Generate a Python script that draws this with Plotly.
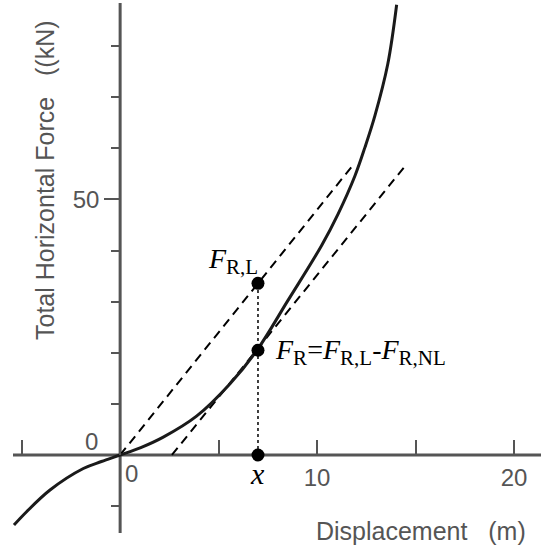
import plotly.graph_objects as go

# ---- data ----
curve_x = [-5.39, -4.75, -3.56, -1.87, -0.95, 0.0, 1.05, 2.19, 3.88, 5.57, 6.93, 8.53, 10.23, 11.07, 11.92, 12.43, 12.93, 13.59, 14.04]
curve_y = [-13.7, -11.1, -6.85, -2.65, -1.28, 0.0, 1.45, 3.5, 7.6, 13.9, 20.4, 30.3, 41.0, 47.2, 54.6, 60.2, 66.3, 76.5, 88.1]

linear_x = [0.0, 11.92]          # secant through origin (F_R,L line)
linear_y = [0.0, 57.2]
tangent_x = [2.63, 14.5]         # parallel tangent line
tangent_y = [0.0, 56.7]

x_mark = 7.0
f_rl = 33.6
f_r = 20.5

x_ticks = [10, 20]
x_tick_text = ["10", "20"]
x_minor = [-5, 0, 5, 15]
y_ticks = [50]
y_tick_text = ["50"]
y_minor = [-10, 10, 20, 30, 40, 60, 70, 80]

x_axis_label = "Displacement\u00a0\u00a0\u00a0(m)"
y_axis_label = "Total Horizontal Force\u00a0\u00a0\u00a0((kN)"

# ---- layout constants ----
W, H = 541, 551
XMIN, XMAX = -6.10, 21.37
YMIN, YMAX = -18.79, 89.04
AX_COLOR = "#555555"
SANS = "Liberation Sans, Arial, sans-serif"
SERIF = "Liberation Serif, Times New Roman, serif"

def px(v):
    return (v - XMIN) / (XMAX - XMIN)

def py(v):
    return (v - YMIN) / (YMAX - YMIN)

fig = go.Figure()

fig.add_trace(go.Scatter(x=linear_x, y=linear_y, mode="lines",
                         line=dict(color="black", width=2, dash="9px,6px"), hoverinfo="skip"))
fig.add_trace(go.Scatter(x=tangent_x, y=tangent_y, mode="lines",
                         line=dict(color="black", width=2, dash="9px,6px"), hoverinfo="skip"))
fig.add_trace(go.Scatter(x=curve_x, y=curve_y, mode="lines",
                         line=dict(color="#1a1a1a", width=3, shape="spline", smoothing=1), hoverinfo="skip"))
fig.add_trace(go.Scatter(x=[x_mark, x_mark], y=[0, f_rl], mode="lines",
                         line=dict(color="black", width=1.5, dash="dot"), hoverinfo="skip"))
fig.add_trace(go.Scatter(x=[x_mark, x_mark, x_mark], y=[f_rl, f_r, 0], mode="markers",
                         marker=dict(color="black", size=13), hoverinfo="skip"))

# axis lines crossing at the origin
fig.add_shape(type="line", xref="x", yref="y", x0=-5.44, x1=XMAX, y0=0, y1=0,
              line=dict(color=AX_COLOR, width=3), layer="below")
fig.add_shape(type="line", xref="x", yref="y", x0=0, x1=0, y0=-15.26, y1=88.45,
              line=dict(color=AX_COLOR, width=3), layer="below")

SUB = "<sub><span style='font-size:21px'>{}</span></sub>"

annotations = [
    dict(x=-1.0, y=0, xref="x", yref="y", text="0", showarrow=False,
         font=dict(family=SANS, size=24, color=AX_COLOR), xanchor="right", yanchor="bottom", yshift=-2),
    dict(x=0.15, y=0, xref="x", yref="y", text="0", showarrow=False,
         font=dict(family=SANS, size=24, color=AX_COLOR), xanchor="left", yanchor="top", yshift=-3),
    dict(x=421 / W, y=1 - 531 / H, xref="paper", yref="paper", text=x_axis_label, showarrow=False,
         font=dict(family=SANS, size=25, color=AX_COLOR), xanchor="center", yanchor="middle"),
    dict(x=45 / W, y=1 - 180 / H, xref="paper", yref="paper", text=y_axis_label, showarrow=False,
         textangle=-90, font=dict(family=SANS, size=25, color=AX_COLOR), xanchor="center", yanchor="middle"),
    dict(x=x_mark, y=f_rl, xref="x", yref="y",
         text="<i>F</i>" + SUB.format("R,L"), showarrow=False,
         font=dict(family=SERIF, size=28, color="black"), xanchor="right", yanchor="bottom", xshift=2, yshift=2),
    dict(x=x_mark, y=f_r, xref="x", yref="y",
         text="<i>F</i>" + SUB.format("R") + "=<i>F</i>" + SUB.format("R,L") + "-<i>F</i>" + SUB.format("R,NL"),
         showarrow=False, font=dict(family=SERIF, size=28, color="black"),
         xanchor="left", yanchor="middle", xshift=15, yshift=-2),
    dict(x=x_mark, y=0, xref="x", yref="y", text="<i>x</i>", showarrow=False,
         font=dict(family=SERIF, size=30, color="black"), xanchor="center", yanchor="top", yshift=0),
]

fig.update_layout(
    width=W, height=H,
    margin=dict(l=0, r=0, t=0, b=0, autoexpand=False),
    paper_bgcolor="white", plot_bgcolor="white",
    showlegend=False,
    annotations=annotations,
    xaxis=dict(range=[XMIN, XMAX], anchor="free", position=py(0), showline=False, showgrid=False,
               zeroline=False, ticks="inside", ticklen=15, tickwidth=2, tickcolor=AX_COLOR,
               tickmode="array", tickvals=x_ticks, ticktext=x_tick_text,
               tickfont=dict(family=SANS, size=24, color=AX_COLOR), ticklabelstandoff=6,
               minor=dict(tickmode="array", tickvals=x_minor, ticks="inside", ticklen=15,
                          tickwidth=2, tickcolor=AX_COLOR),
               fixedrange=True, automargin=False),
    yaxis=dict(range=[YMIN, YMAX], anchor="free", position=px(0), side="left", showline=False,
               showgrid=False, zeroline=False, ticks="outside", ticklen=16, tickwidth=2,
               tickcolor=AX_COLOR, tickmode="array", tickvals=y_ticks, ticktext=y_tick_text,
               tickfont=dict(family=SANS, size=24, color=AX_COLOR),
               minor=dict(tickmode="array", tickvals=y_minor, ticks="outside", ticklen=9,
                          tickwidth=2, tickcolor=AX_COLOR),
               fixedrange=True, automargin=False),
)

fig.write_html("out.html", config={"displayModeBar": False},
               post_script="document.body.style.margin='0px';document.body.style.overflow='hidden';")
